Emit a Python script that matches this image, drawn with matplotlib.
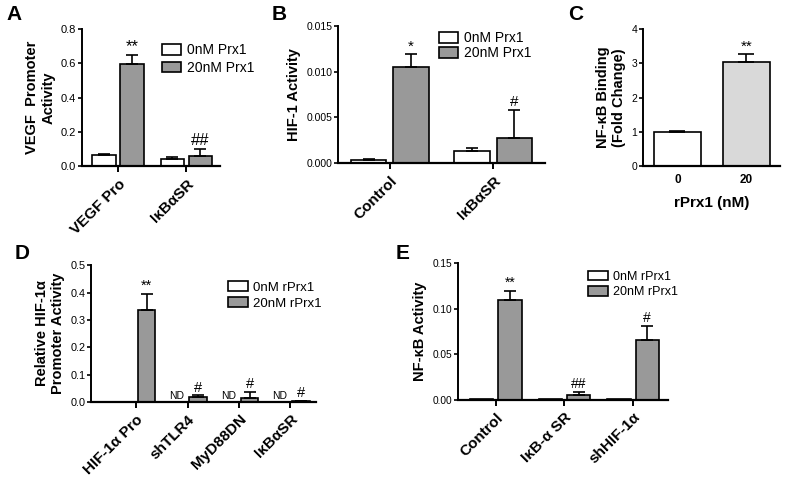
import matplotlib
matplotlib.use("Agg")
import matplotlib.pyplot as plt
import numpy as np

plt.rcParams['font.family'] = ['Liberation Sans', 'DejaVu Sans']

# panel A
a_groups = ['VEGF Pro', 'IκBαSR']
a_ctrl = [0.063, 0.042]
a_ctrl_err = [0.010, 0.010]
a_trt = [0.595, 0.060]
a_trt_err = [0.055, 0.040]
a_marks = ['**', '##']

# panel B
b_groups = ['Control', 'IκBαSR']
b_ctrl = [0.0003, 0.0013]
b_ctrl_err = [0.0001, 0.0003]
b_trt = [0.0105, 0.0027]
b_trt_err = [0.0014, 0.0031]
b_marks = ['*', '#']

# panel C
c_groups = ['0', '20']
c_vals = [1.0, 3.03]
c_err = [0.03, 0.23]

# panel D
d_groups = ['HIF-1α Pro', 'shTLR4', 'MyD88DN', 'IκBαSR']
d_ctrl = [0.001, 0.0, 0.0, 0.0]
d_trt = [0.335, 0.017, 0.015, 0.002]
d_trt_err = [0.060, 0.007, 0.022, 0.0005]
d_marks = ['**', '#', '#', '#']
d_nd = [False, True, True, True]

# panel E
e_groups = ['Control', 'IκB-α SR', 'shHIF-1α']
e_ctrl = [0.0008, 0.0006, 0.0008]
e_trt = [0.110, 0.005, 0.066]
e_trt_err = [0.010, 0.004, 0.015]
e_marks = ['**', '##', '#']

GRAY = '#999999'
W = 0.34
OFF = 0.205


def style(ax, ymax, yticks, fmt, tsize):
    ax.spines['top'].set_visible(False)
    ax.spines['right'].set_visible(False)
    ax.spines['left'].set_linewidth(1.4)
    ax.spines['bottom'].set_linewidth(1.6)
    ax.set_ylim(0, ymax)
    ax.set_yticks(yticks)
    ax.set_yticklabels([fmt.format(t) for t in yticks], fontsize=tsize)
    ax.tick_params(axis='y', length=3, width=1.2, pad=1)
    ax.tick_params(axis='x', length=4, width=1.4)


def grouped(ax, groups, ctrl, trt, trt_err, marks, ctrl_err=None,
            mark_size=11, tick_size=11):
    x = np.arange(len(groups))
    ce = None if ctrl_err is None else [np.zeros(len(x)), ctrl_err]
    ax.bar(x - OFF, ctrl, W, color='white', edgecolor='black', linewidth=1.2,
           yerr=ce, capsize=4, error_kw=dict(elinewidth=1.2, capthick=1.2))
    ax.bar(x + OFF, trt, W, color=GRAY, edgecolor='black', linewidth=1.2,
           yerr=[np.zeros(len(x)), trt_err], capsize=4,
           error_kw=dict(elinewidth=1.2, capthick=1.2))
    top = ax.get_ylim()[1]
    for xi, v, e, m in zip(x, trt, trt_err, marks):
        ax.text(xi + OFF, v + e + top * 0.005, m, ha='center', va='bottom',
                fontsize=mark_size)
    ax.set_xticks(x)
    ax.set_xticklabels(groups, rotation=45, ha='right', rotation_mode='anchor',
                       fontsize=tick_size, fontweight='bold')
    return x


fig = plt.figure(figsize=(7.87, 4.83), dpi=100)

# A
axA = fig.add_axes([0.104, 0.656, 0.176, 0.284])
style(axA, 0.8, [0.0, 0.2, 0.4, 0.6, 0.8], '{:.1f}', 8)
grouped(axA, a_groups, a_ctrl, a_trt, a_trt_err, a_marks, ctrl_err=a_ctrl_err,
        mark_size=12)
axA.set_xlim(-0.53, 1.5)
axA.set_ylabel('VEGF  Promoter\nActivity', fontsize=10.5, fontweight='bold',
               labelpad=4)
axA.legend(['0nM Prx1', '20nM Prx1'], loc='upper left',
           bbox_to_anchor=(0.197, 0.925), bbox_transform=fig.transFigure,
           frameon=False, fontsize=10, handlelength=1.4, handleheight=0.8,
           handletextpad=0.4, borderpad=0, labelspacing=0.25)

# B
axB = fig.add_axes([0.4295, 0.6625, 0.263, 0.2835])
style(axB, 0.015, [0.0, 0.005, 0.010, 0.015], '{:.3f}', 7.5)
grouped(axB, b_groups, b_ctrl, b_trt, b_trt_err, b_marks, ctrl_err=b_ctrl_err)
axB.set_xlim(-0.5, 1.5)
axB.set_ylabel('HIF-1 Activity', fontsize=10.5, fontweight='bold', labelpad=4)
axB.legend(['0nM Prx1', '20nM Prx1'], loc='upper left',
           bbox_to_anchor=(0.549, 0.95), bbox_transform=fig.transFigure,
           frameon=False, fontsize=10, handlelength=1.4, handleheight=0.8,
           handletextpad=0.4, borderpad=0, labelspacing=0.1)

# C
axC = fig.add_axes([0.817, 0.656, 0.174, 0.284])
style(axC, 4, [0, 1, 2, 3, 4], '{:d}', 7.5)
xc = np.arange(len(c_groups))
axC.bar(xc, c_vals, 0.68, color=['white', '#d9d9d9'], edgecolor='black',
        linewidth=1.2, yerr=[np.zeros(len(xc)), c_err], capsize=6,
        error_kw=dict(elinewidth=1.2, capthick=1.2))
axC.text(1, c_vals[1] + c_err[1] + 0.02, '**', ha='center', va='bottom',
         fontsize=11)
axC.set_xlim(-0.5, 1.49)
axC.set_xticks(xc)
axC.set_xticklabels(c_groups, fontsize=8.5, fontweight='bold')
axC.tick_params(axis='x', length=0, pad=6)
axC.set_xlabel('rPrx1 (nM)', fontsize=11, fontweight='bold', labelpad=7)
axC.set_ylabel('NF-κB Binding\n(Fold Change)', fontsize=10.5,
               fontweight='bold', labelpad=4)

# D
axD = fig.add_axes([0.1156, 0.168, 0.286, 0.283])
style(axD, 0.5, [0.0, 0.1, 0.2, 0.3, 0.4, 0.5], '{:.1f}', 7.8)
xd = grouped(axD, d_groups, d_ctrl, d_trt, d_trt_err, d_marks, mark_size=10.5)
for xi, nd in zip(xd, d_nd):
    if nd:
        axD.text(xi - OFF, 0.002, 'ND', ha='center', va='bottom', fontsize=7.5)
axD.set_xlim(-0.88, 3.5)
axD.set_ylabel('Relative HIF-1α\nPromoter Activity', fontsize=10.5,
               fontweight='bold', labelpad=4)
axD.legend(['0nM rPrx1', '20nM rPrx1'], loc='upper left',
           bbox_to_anchor=(0.281, 0.432), bbox_transform=fig.transFigure,
           frameon=False, fontsize=9.5, handlelength=1.5, handleheight=0.8,
           handletextpad=0.4, borderpad=0, labelspacing=0.25)

# E
axE = fig.add_axes([0.582, 0.172, 0.267, 0.283])
style(axE, 0.15, [0.0, 0.05, 0.10, 0.15], '{:.2f}', 7.3)
grouped(axE, e_groups, e_ctrl, e_trt, e_trt_err, e_marks, mark_size=10)
axE.set_xlim(-0.55, 2.51)
axE.set_ylabel('NF-κB Activity', fontsize=10.5, fontweight='bold', labelpad=4)
axE.legend(['0nM rPrx1', '20nM rPrx1'], loc='upper left',
           bbox_to_anchor=(0.739, 0.452), bbox_transform=fig.transFigure,
           frameon=False, fontsize=9, handlelength=1.6, handleheight=0.8,
           handletextpad=0.4, borderpad=0, labelspacing=0.25)

# panel letters
for lbl, x, y in [('A', 0.008, 0.99), ('B', 0.345, 0.99), ('C', 0.722, 0.99),
                  ('D', 0.018, 0.495), ('E', 0.503, 0.495)]:
    fig.text(x, y, lbl, fontsize=15, fontweight='bold', va='top')

fig.savefig('out.png', dpi=100)
